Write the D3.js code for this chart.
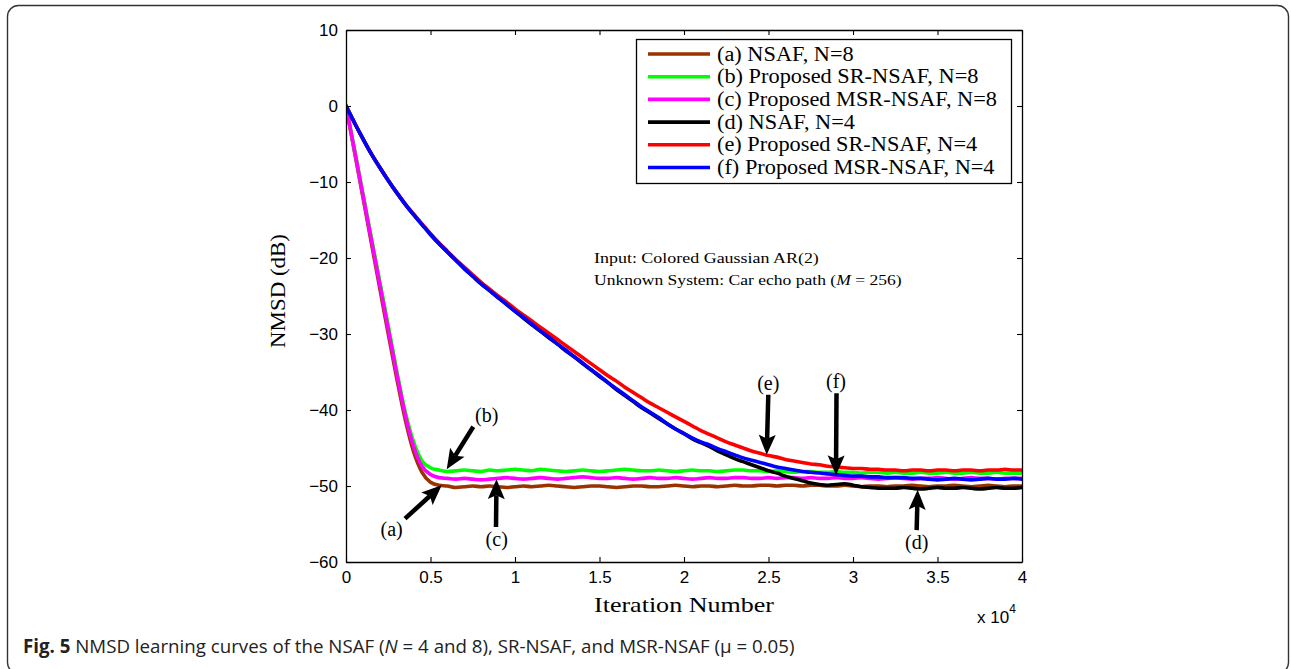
<!DOCTYPE html>
<html>
<head>
<meta charset="utf-8">
<script src="https://cdn.jsdelivr.net/npm/d3@7"></script>
<style>
  html, body { margin: 0; padding: 0; background: #fff; }
  svg { display: block; }
</style>
</head>
<body>
<svg id="chart" width="1291" height="669"></svg>
<script>
// Iteration grid shared by every learning curve
const iterations = d3.range(0, 40001, 500);

// NMSD (dB) learning curves, one value per grid point
const nsafN8 = [
  0, -6.0, -12.0, -18.0, -24.0, -30.0, -35.8, -41.2, -45.5, -48.2,
  -49.5, -49.9, -50.0, -50.2, -50.1, -50.0, -50.1, -50.0, -50.1, -50.2,
  -50.1, -50.0, -50.1, -50.0, -49.9, -50.0, -50.1, -50.2, -50.1, -50.0,
  -50.0, -50.1, -50.2, -50.1, -50.0, -50.0, -50.1, -50.1, -50.0, -49.9,
  -50.0, -50.1, -50.0, -50.0, -50.1, -50.0, -49.9, -50.0, -50.0, -49.9,
  -49.9, -50.0, -49.9, -49.9, -50.0, -49.9, -49.9, -50.0, -50.0, -49.9,
  -50.0, -50.1, -50.0, -50.0, -50.1, -50.0, -50.0, -49.9, -50.0, -50.1,
  -50.0, -50.0, -49.9, -50.0, -50.1, -50.0, -49.9, -50.0, -50.1, -50.0,
  -50.0
];
const srNsafN8 = [
  0, -5.7, -11.5, -17.3, -23.1, -28.9, -34.8, -40.2, -44.2, -46.7,
  -47.6, -47.9, -48.1, -48.0, -47.9, -48.0, -48.1, -47.9, -48.0, -47.9,
  -47.8, -47.9, -48.0, -47.8, -47.9, -48.0, -48.1, -48.0, -47.9, -48.0,
  -48.1, -48.0, -47.9, -47.8, -47.9, -48.0, -48.0, -47.9, -48.0, -48.1,
  -48.0, -47.9, -48.0, -48.0, -48.1, -48.0, -47.9, -47.9, -48.0, -48.0,
  -48.1, -48.0, -48.1, -48.2, -48.1, -48.1, -48.2, -48.2, -48.1, -48.2,
  -48.2, -48.3, -48.2, -48.2, -48.3, -48.2, -48.3, -48.3, -48.2, -48.3,
  -48.3, -48.2, -48.3, -48.3, -48.2, -48.3, -48.3, -48.2, -48.3, -48.3,
  -48.3
];
const msrNsafN8 = [
  0, -5.8, -11.7, -17.6, -23.5, -29.4, -35.2, -40.6, -44.8, -47.4,
  -48.5, -48.9, -49.0, -49.1, -49.0, -49.1, -49.2, -49.1, -49.0, -48.9,
  -49.0, -49.1, -49.0, -48.9, -49.0, -49.1, -49.0, -48.9, -48.8, -48.9,
  -49.0, -49.0, -48.9, -49.0, -49.1, -49.0, -48.9, -49.0, -49.0, -48.9,
  -49.0, -49.1, -49.0, -48.9, -49.0, -49.0, -48.9, -48.9, -49.0, -49.0,
  -48.9, -49.0, -48.9, -48.9, -49.0, -48.9, -49.0, -49.0, -48.9, -49.0,
  -49.0, -48.9, -49.0, -49.1, -49.0, -48.9, -49.0, -49.1, -49.0, -49.0,
  -48.9, -49.0, -49.1, -49.0, -48.9, -49.0, -49.0, -49.1, -49.0, -49.0,
  -49.0
];
const nsafN4 = [
  0, -2.2, -4.3, -6.3, -8.1, -9.8, -11.4, -12.9, -14.3, -15.6,
  -16.9, -18.1, -19.2, -20.3, -21.4, -22.4, -23.4, -24.3, -25.2, -26.1,
  -27.0, -27.9, -28.8, -29.6, -30.5, -31.3, -32.2, -33.0, -33.9, -34.7,
  -35.6, -36.4, -37.3, -38.1, -38.9, -39.7, -40.4, -41.1, -41.8, -42.5,
  -43.1, -43.8, -44.3, -44.8, -45.4, -45.9, -46.4, -46.8, -47.2, -47.6,
  -48.0, -48.3, -48.7, -49.0, -49.3, -49.6, -49.8, -49.9, -49.8, -49.7,
  -49.9, -50.1, -50.2, -50.3, -50.3, -50.3, -50.2, -50.3, -50.4, -50.3,
  -50.2, -50.3, -50.3, -50.2, -50.3, -50.4, -50.3, -50.2, -50.3, -50.3,
  -50.2
];
const srNsafN4 = [
  0, -2.2, -4.3, -6.3, -8.1, -9.8, -11.4, -12.9, -14.2, -15.5,
  -16.8, -18.0, -19.1, -20.2, -21.2, -22.2, -23.2, -24.1, -25.0, -25.8,
  -26.7, -27.5, -28.3, -29.1, -29.9, -30.7, -31.5, -32.3, -33.1, -33.9,
  -34.7, -35.5, -36.2, -37.0, -37.7, -38.4, -39.1, -39.7, -40.3, -40.9,
  -41.5, -42.1, -42.7, -43.2, -43.7, -44.2, -44.6, -45.0, -45.4, -45.7,
  -46.0, -46.2, -46.5, -46.7, -46.9, -47.1, -47.2, -47.4, -47.5, -47.6,
  -47.7, -47.7, -47.8, -47.8, -47.9, -47.9, -48.0, -47.9, -47.9, -48.0,
  -47.9, -47.9, -48.0, -47.9, -47.9, -48.0, -47.9, -47.9, -47.8, -47.9,
  -47.9
];
const msrNsafN4 = [
  0, -2.2, -4.3, -6.3, -8.1, -9.8, -11.4, -12.9, -14.3, -15.6,
  -16.9, -18.1, -19.2, -20.3, -21.4, -22.4, -23.4, -24.3, -25.2, -26.1,
  -27.0, -27.8, -28.7, -29.6, -30.4, -31.3, -32.1, -33.0, -33.8, -34.7,
  -35.5, -36.4, -37.2, -38.0, -38.8, -39.6, -40.3, -41.0, -41.8, -42.5,
  -43.1, -43.7, -44.2, -44.6, -45.1, -45.5, -45.9, -46.3, -46.6, -46.9,
  -47.2, -47.5, -47.7, -47.9, -48.1, -48.2, -48.3, -48.4, -48.5, -48.6,
  -48.7, -48.7, -48.8, -48.8, -48.9, -48.9, -48.9, -49.0, -49.0, -49.1,
  -49.2, -49.1, -49.0, -49.1, -49.2, -49.1, -49.0, -49.1, -49.1, -49.0,
  -49.1
];

const seriesLabels = [
  "(a) NSAF, N=8",
  "(b) Proposed SR-NSAF, N=8",
  "(c) Proposed MSR-NSAF, N=8",
  "(d) NSAF, N=4",
  "(e) Proposed SR-NSAF, N=4",
  "(f) Proposed MSR-NSAF, N=4"
];
const seriesColors = ["#993300", "#00ff00", "#ff00ff", "#000000", "#ff0000", "#0000ff"];

const xTickValues = [0, 5000, 10000, 15000, 20000, 25000, 30000, 35000, 40000];
const xTickLabels = ["0", "0.5", "1", "1.5", "2", "2.5", "3", "3.5", "4"];
const yTickValues = [10, 0, -10, -20, -30, -40, -50, -60];
const yTickLabels = ["10", "0", "\u221210", "\u221220", "\u221230", "\u221240", "\u221250", "\u221260"];

// Curve call-outs: label, label anchor, arrow tail and arrow tip (iteration, dB)
const calloutLabels = ["(a)", "(b)", "(c)", "(d)", "(e)", "(f)"];
const calloutText   = [[2703, -55.7], [8325, -40.6], [8917, -57.0], [33767, -57.4], [24988, -36.4], [28994, -36.2]];
const calloutTails  = [[3491, -54.3], [7533, -42.2], [8876, -55.4], [33767, -55.8], [24988, -38.0], [29024, -37.8]];
const calloutTips   = [[5663, -49.9], [5959, -47.8], [8905, -49.1], [33826, -50.5], [24893, -45.9], [28994, -48.6]];

const noteLines = ["Input: Colored Gaussian AR(2)", "Unknown System: Car echo path ("];

// ---------------------------------------------------------------------------
const svg = d3.select("#chart");
const plot = { left: 346, top: 30, width: 676, height: 532 };

const sansFont = "'Liberation Sans', Arial, Helvetica, sans-serif";
const serifFont = "'Liberation Serif', 'Times New Roman', serif";

// Stretch a text horizontally to a given width, anchored at (ax, ay)
function stretchTo(sel, targetWidth, ax, ay, anchor) {
  sel.attr("x", 0).attr("y", 0);
  const w = sel.node().getComputedTextLength();
  const k = targetWidth / w;
  const shift = anchor === "middle" ? -targetWidth / 2 : 0;
  sel.attr("text-anchor", "start")
    .attr("transform", `translate(${ax + shift},${ay}) scale(${k},1)`);
}

// Figure frame
svg.append("rect")
  .attr("x", 7.5).attr("y", 5.5)
  .attr("width", 1281).attr("height", 668)
  .attr("rx", 11).attr("ry", 11)
  .attr("fill", "none").attr("stroke", "#333").attr("stroke-width", 1.4);

const x = d3.scaleLinear().domain([0, 40000]).range([plot.left, plot.left + plot.width]);
const y = d3.scaleLinear().domain([-60, 10]).range([plot.top + plot.height, plot.top]);

// Clip curves to the axes box
svg.append("defs").append("clipPath").attr("id", "plotClip")
  .append("rect")
  .attr("x", plot.left).attr("y", plot.top)
  .attr("width", plot.width).attr("height", plot.height);

// Curves
const allSeries = [nsafN8, srNsafN8, msrNsafN8, nsafN4, srNsafN4, msrNsafN4];
const line = d3.line()
  .x((d, i) => x(iterations[i]))
  .y(d => y(d))
  .curve(d3.curveMonotoneX);

svg.append("g").attr("clip-path", "url(#plotClip)")
  .selectAll("path")
  .data(allSeries)
  .join("path")
  .attr("d", d => line(d))
  .attr("fill", "none")
  .attr("stroke", (d, i) => seriesColors[i])
  .attr("stroke-width", 3.6)
  .attr("stroke-linejoin", "round")
  .attr("stroke-linecap", "round");

// Axes (ticks pointing inward on all four sides)
const tickLen = 5;
const axisLeft = d3.axisLeft(y).tickValues(yTickValues)
  .tickFormat((d, i) => yTickLabels[i])
  .tickSizeInner(-tickLen).tickSizeOuter(0).tickPadding(8);
const axisBottom = d3.axisBottom(x).tickValues(xTickValues)
  .tickFormat((d, i) => xTickLabels[i])
  .tickSizeInner(-tickLen).tickSizeOuter(0).tickPadding(9);
const axisTop = d3.axisTop(x).tickValues(xTickValues).tickFormat("")
  .tickSizeInner(-tickLen).tickSizeOuter(0);
const axisRight = d3.axisRight(y).tickValues(yTickValues).tickFormat("")
  .tickSizeInner(-tickLen).tickSizeOuter(0);

function styleAxis(g) {
  g.select(".domain").attr("stroke", "#000").attr("stroke-width", 1.3);
  g.selectAll(".tick line").attr("stroke", "#000").attr("stroke-width", 1.1);
  g.selectAll(".tick text")
    .attr("fill", "#000")
    .style("font-family", sansFont)
    .style("font-size", "17px");
}

svg.append("g").attr("transform", `translate(${plot.left},0)`).call(axisLeft).call(styleAxis);
svg.append("g").attr("transform", `translate(0,${plot.top + plot.height})`).call(axisBottom).call(styleAxis);
svg.append("g").attr("transform", `translate(0,${plot.top})`).call(axisTop).call(styleAxis);
svg.append("g").attr("transform", `translate(${plot.left + plot.width},0)`).call(axisRight).call(styleAxis);

// Axis titles
const xTitle = svg.append("text")
  .style("font-family", serifFont).style("font-size", "21px")
  .text("Iteration Number");
stretchTo(xTitle, 180, plot.left + plot.width / 2, 612, "middle");

const yTitleG = svg.append("g").attr("transform", "translate(285,291) rotate(-90)");
const yTitle = yTitleG.append("text")
  .style("font-family", serifFont).style("font-size", "21px")
  .text("NMSD (dB)");
stretchTo(yTitle, 114, 0, 0, "middle");

// Exponent label of the iteration axis
const expo = svg.append("text")
  .attr("x", 977).attr("y", 623)
  .style("font-family", sansFont).style("font-size", "17px");
expo.append("tspan").text("x 10");
expo.append("tspan").attr("dy", -10).style("font-size", "12px").text("4");

// Simulation note inside the axes
const note = svg.append("g").style("font-family", serifFont).style("font-size", "15.5px");
const note1 = note.append("text").text(noteLines[0]);
stretchTo(note1, 225, 594, 263);
const note2 = note.append("text");
note2.append("tspan").text(noteLines[1]);
note2.append("tspan").style("font-style", "italic").text("M");
note2.append("tspan").text(" = 256)");
stretchTo(note2, 308, 594, 285);

// Call-out arrows
const arrows = svg.append("g");
function drawArrow(x1, y1, x2, y2) {
  const dx = x2 - x1, dy = y2 - y1, L = Math.hypot(dx, dy);
  const ux = dx / L, uy = dy / L;
  const headLen = 20, headHalf = 8.5, notch = 4;
  const bx = x2 - ux * headLen, by = y2 - uy * headLen;
  arrows.append("line")
    .attr("x1", x1).attr("y1", y1)
    .attr("x2", bx + ux * notch).attr("y2", by + uy * notch)
    .attr("stroke", "#000").attr("stroke-width", 4.5);
  const pts = [
    [x2, y2],
    [bx - uy * headHalf, by + ux * headHalf],
    [bx + ux * notch, by + uy * notch],
    [bx + uy * headHalf, by - ux * headHalf]
  ];
  arrows.append("path")
    .attr("d", "M" + pts.map(p => p.join(",")).join("L") + "Z")
    .attr("fill", "#000");
}
calloutLabels.forEach((lab, i) => {
  drawArrow(x(calloutTails[i][0]), y(calloutTails[i][1]), x(calloutTips[i][0]), y(calloutTips[i][1]));
  svg.append("text")
    .attr("x", x(calloutText[i][0])).attr("y", y(calloutText[i][1]))
    .attr("text-anchor", "middle").attr("dominant-baseline", "central")
    .style("font-family", serifFont).style("font-size", "20px")
    .text(lab);
});

// Legend
const legend = svg.append("g");
legend.append("rect")
  .attr("x", 636.5).attr("y", 39.5).attr("width", 375).attr("height", 144)
  .attr("fill", "#fff").attr("stroke", "#000").attr("stroke-width", 1.3);
const rowY = i => 54 + i * 22.7;
legend.selectAll("line.key")
  .data(seriesLabels)
  .join("line").attr("class", "key")
  .attr("x1", 648).attr("x2", 710)
  .attr("y1", (d, i) => rowY(i)).attr("y2", (d, i) => rowY(i))
  .attr("stroke", (d, i) => seriesColors[i]).attr("stroke-width", 3.6);
const legendText = legend.selectAll("text")
  .data(seriesLabels)
  .join("text")
  .attr("x", 717).attr("y", (d, i) => rowY(i) + 6.5)
  .style("font-family", serifFont).style("font-size", "20.5px")
  .text(d => d);
{
  const widths = legendText.nodes().map(n => n.getComputedTextLength());
  const k = 280 / d3.max(widths);
  legendText.attr("textLength", (d, i) => widths[i] * k).attr("lengthAdjust", "spacingAndGlyphs");
}

// Caption
const cap = svg.append("text")
  .style("font-family", "'Open Sans', 'Noto Sans', sans-serif").style("font-size", "19px")
  .attr("fill", "#222");
cap.append("tspan").style("font-weight", "bold").text("Fig. 5");
cap.append("tspan").text(" NMSD learning curves of the NSAF (");
cap.append("tspan").style("font-style", "italic").text("N");
cap.append("tspan").text(" = 4 and 8), SR-NSAF, and MSR-NSAF (\u03bc = 0.05)");
stretchTo(cap, 772, 23, 653);
</script>
</body>
</html>
